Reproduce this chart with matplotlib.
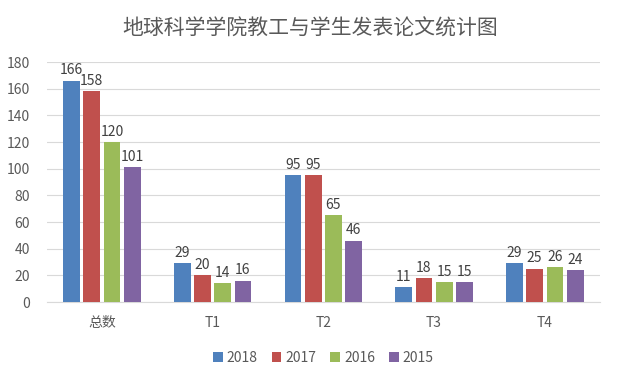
import numpy as np
import matplotlib.pyplot as plt

plt.rcParams['font.family'] = ['Noto Sans CJK SC', 'DejaVu Sans']

# 数据
categories = ['总数', 'T1', 'T2', 'T3', 'T4']
years = ['2018', '2017', '2016', '2015']
v2018 = [166, 29, 95, 11, 29]
v2017 = [158, 20, 95, 18, 25]
v2016 = [120, 14, 65, 15, 26]
v2015 = [101, 16, 46, 15, 24]
series = [v2018, v2017, v2016, v2015]
colors = ['#4F81BD', '#C0504D', '#9BBB59', '#8064A2']

txt = '#595959'

fig = plt.figure(figsize=(6.2, 3.81), dpi=100)
ax = fig.add_axes([0.075, 0.207, 0.893, 0.63])

x = np.arange(len(categories))
step = 0.183
width = 0.152
for i, (vals, c, yr) in enumerate(zip(series, colors, years)):
    pos = x + (i - 1.5) * step
    bars = ax.bar(pos, vals, width, color=c, label=yr, zorder=3)
    for b, v in zip(bars, vals):
        ax.text(b.get_x() + b.get_width() / 2, v + 2.5, str(v),
                ha='center', va='bottom', fontsize=10, color='#404040')

ax.set_xlim(-0.5, 4.5)
ax.set_ylim(0, 180)
ax.set_yticks(range(0, 181, 20))
ax.yaxis.grid(True, color='#d9d9d9', linewidth=0.8, zorder=0)
ax.set_xticks(x)
ax.set_xticklabels(categories)
ax.tick_params(axis='both', length=0, colors=txt, labelsize=10)
ax.tick_params(axis='x', pad=10)
ax.tick_params(axis='y', pad=12)
for s in ['top', 'right', 'left']:
    ax.spines[s].set_visible(False)
ax.spines['bottom'].set_color('#d9d9d9')

fig.text(0.5, 0.925, '地球科学学院教工与学生发表论文统计图', ha='center', va='center',
         fontsize=15, color=txt)

ax.legend(loc='upper center', bbox_to_anchor=(0.5, -0.15), ncol=4, frameon=False,
          handlelength=0.7, handleheight=0.7, handletextpad=0.3, columnspacing=1.0,
          fontsize=10, labelcolor=txt)

fig.savefig('out.png', dpi=100)
